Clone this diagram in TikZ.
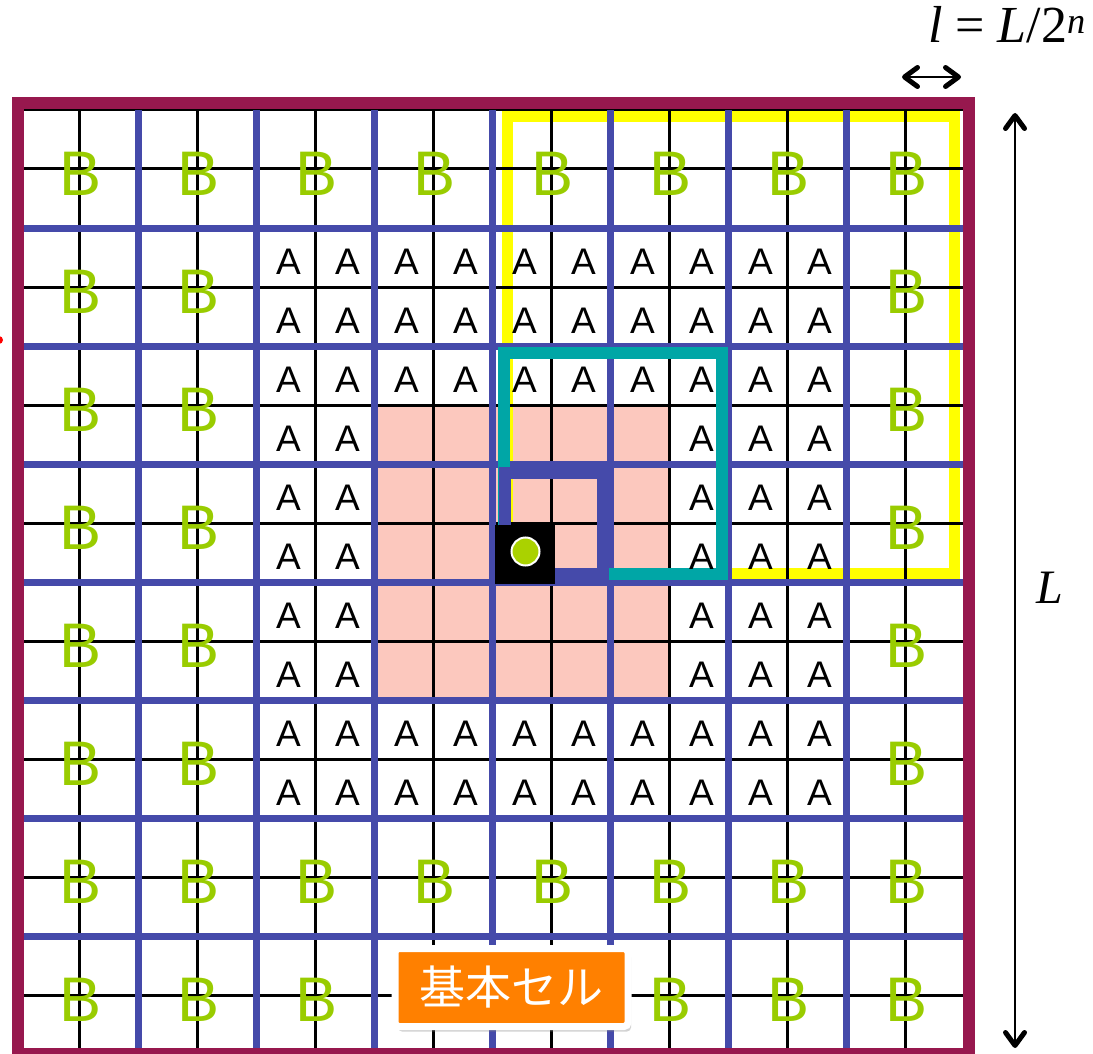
\documentclass[tikz,border=0pt]{standalone}
\usepackage{fontspec}
\setmainfont{Liberation Sans}
\newfontfamily\tms{Liberation Serif}
\newfontfamily\cjk{Noto Sans CJK JP}
\usetikzlibrary{arrows.meta,shadows}
\definecolor{frameC}{RGB}{151,24,78}
\definecolor{blueC}{RGB}{69,74,170}
\definecolor{tealC}{RGB}{0,166,166}
\definecolor{yellowC}{RGB}{255,255,0}
\definecolor{greenB}{RGB}{153,204,0}
\definecolor{greenDot}{RGB}{170,210,0}
\definecolor{pinkC}{RGB}{252,200,190}
\definecolor{orangeC}{RGB}{255,128,0}
\begin{document}
\begin{tikzpicture}[x=1pt,y=-1pt,
  fineline/.style={black,line width=3pt},
  coarseline/.style={blueC,line width=7pt},
  letA/.style={font=\fontsize{37}{37}\selectfont,inner sep=0pt},
  letB/.style={text=greenB,font=\fontsize{63}{63}\selectfont,inner sep=0pt},
  dimarrow/.style={{Straight Barb[length=13pt,width=19pt,line width=5pt,round]}-{Straight Barb[length=13pt,width=19pt,line width=5pt,round]}},
  cellbox/.style={draw=white,line width=7pt,rounded corners=4pt,fill=orangeC,
    minimum width=233pt,minimum height=78pt,text=white,
    font=\cjk\fontsize{46}{46}\selectfont,
    drop shadow={shadow xshift=3pt,shadow yshift=-5pt,opacity=0.35}}]
\useasboundingbox (0,0) rectangle (1093,1054);
\fill[white] (0,0) rectangle (1093,1054);
% pink region
\fill[pinkC] (374,405) rectangle (669,700);
% yellow square
\draw[yellowC,line width=11pt] (507,117) rectangle (954,573);
% fine grid
\foreach \i in {1,3,...,15} {
  \draw[fineline] ({20+59*\i},110) -- ({20+59*\i},1054);
  \draw[fineline] (20,{110+59*\i}) -- (964,{110+59*\i});
}
\draw[fineline] (20,110) -- (964,110);
\draw[fineline] (964,110) -- (964,1054);
% coarse grid
\foreach \i in {2,4,...,14} {
  \draw[coarseline] ({20+59*\i},110) -- ({20+59*\i},1054);
  \draw[coarseline] (20,{110+59*\i}) -- (964,{110+59*\i});
}
% teal square, blue square, black cell
\draw[tealC,line width=12pt] (503.5,352.5) rectangle (721.5,574);
\draw[blueC,line width=12pt] (505,473) rectangle (603,574);
\fill[black] (495,525) rectangle (555,584);
\node[circle,fill=greenDot,draw=white,line width=2pt,minimum size=28pt,inner sep=0pt] (dot) at (525.5,551.5) {};
% A letters
\foreach \r in {2,3,4,10,11} {
  \foreach \cc in {4,...,13} {
    \node[letA] (A-\cc-\r) at ({52.5+59*\cc},{143.5+59*\r}) {A};
  }
}
\foreach \r in {5,...,9} {
  \foreach \cc in {4,5,11,12,13} {
    \node[letA] (A-\cc-\r) at ({52.5+59*\cc},{143.5+59*\r}) {A};
  }
}
% B letters
\foreach \m in {0,6} {
  \foreach \k in {0,...,7} {
    \node[letB] (B-\k-\m) at ({81+118*\k},{174+118*\m}) {B};
  }
}
\foreach \m in {1,...,5} {
  \foreach \k in {0,1,7} {
    \node[letB] (B-\k-\m) at ({81+118*\k},{174+118*\m}) {B};
  }
}
\foreach \k in {0,1,2,5,6,7} {
  \node[letB] (B-\k-7) at ({81+118*\k},{174+118*7}) {B};
}
% outer frame
\draw[frameC,line width=12pt] (17.5,103.5) rectangle (969,1054);
% small red fragment at the left edge
\fill[red] (-1,340) circle (4);
% label
\node[cellbox] (cell) at (511.5,987.5) {基本セル};
% dimension arrows
\coordinate (hl) at (902,77);
\coordinate (hr) at (961,77);
\draw[line width=1.8pt,dimarrow] (hl) -- (hr);
\coordinate (vt) at (1015,113);
\coordinate (vb) at (1015,1048);
\draw[line width=1.6pt,dimarrow] (vt) -- (vb);
\node[anchor=base,inner sep=0pt,font=\tms\fontsize{52}{52}\selectfont] (lform) at (1007,43)
  {\itshape l\/ \upshape = \itshape L\upshape/2\textsuperscript{\itshape n}};
\node[anchor=base,inner sep=0pt,font=\tms\fontsize{48}{48}\selectfont] (Llab) at (1050,603)
  {\itshape L};
\end{tikzpicture}
\end{document}
